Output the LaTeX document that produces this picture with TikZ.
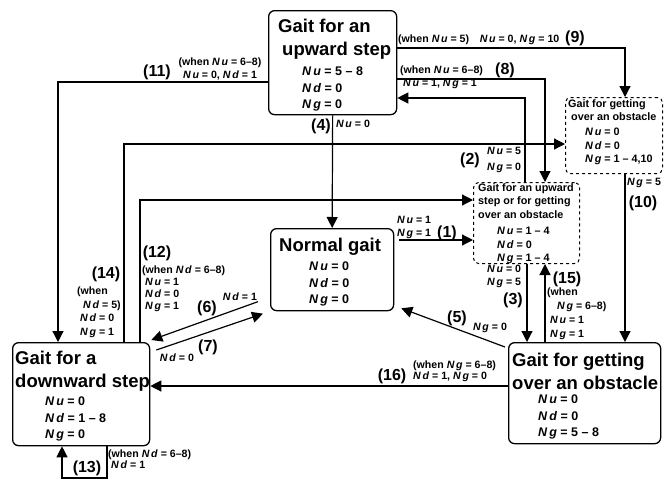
\documentclass[tikz,border=0pt]{standalone}
\usepackage{fontspec}
\setmainfont{Liberation Sans}
\usetikzlibrary{arrows.meta}

\newcommand{\Vu}{\textit{N\,u}}
\newcommand{\Vd}{\textit{N\,d}}
\newcommand{\Vg}{\textit{N\,g}}

\tikzset{x=1pt, y=-1pt,
    gbox/.style={draw, line width=1.3pt, rounded corners=6pt, anchor=north west, inner sep=0pt},
    dbox/.style={gbox, dashed, line width=1pt, rounded corners=5pt},
    ttl/.style={anchor=north west, inner sep=0pt, align=left, font=\fontsize{18.5}{23}\selectfont\bfseries},
    vals/.style={anchor=north west, inner sep=0pt, align=left, font=\fontsize{12.5}{16.5}\selectfont\bfseries},
    sttl/.style={anchor=north west, inner sep=0pt, align=left, font=\fontsize{10.8}{13.5}\selectfont\bfseries},
    svals/.style={anchor=north west, inner sep=0pt, align=left, font=\fontsize{10.8}{13.5}\selectfont\bfseries},
    flow/.style={line width=1.2pt, -{Triangle[length=11pt,width=11pt]}},
    num/.style={inner sep=0pt, font=\fontsize{16}{16}\selectfont\bfseries},
    cond/.style={inner sep=0pt, align=left, font=\fontsize{10.6}{13}\selectfont\bfseries}
}

\begin{document}
\begin{tikzpicture}
\useasboundingbox (0,0) rectangle (664,480);
% states
\node[gbox, minimum width=128pt, minimum height=104pt] (up) at (268,10) {};
\node[gbox, minimum width=123pt, minimum height=82pt] (normal) at (270,228) {};
\node[gbox, minimum width=137pt, minimum height=103pt] (down) at (12,342) {};
\node[gbox, minimum width=152pt, minimum height=101pt] (obst) at (508,342) {};
\node[dbox, minimum width=106pt, minimum height=81pt] (upob) at (473,182) {};
\node[dbox, minimum width=97pt, minimum height=76pt] (obdash) at (565,97) {};

\node[ttl] (upT) at (278,19) {Gait for an\\\hspace*{4pt}upward step};
\node[vals] (upV) at (302,67) {\Vu{} = 5 -- 8\\\Vd{} = 0\\\Vg{} = 0};
\node[ttl] (normT) at (279,238) {Normal gait};
\node[vals] (normV) at (309,262) {\Vu{} = 0\\\Vd{} = 0\\\Vg{} = 0};
\node[ttl] (downT) at (15,351) {Gait for a\\downward step};
\node[vals] (downV) at (45,397) {\Vu{} = 0\\\Vd{} = 1 -- 8\\\Vg{} = 0};
\node[ttl] (obstT) at (512,353) {Gait for getting\\over an obstacle};
\node[vals] (obstV) at (538,395) {\Vu{} = 0\\\Vd{} = 0\\\Vg{} = 5 -- 8};
\node[sttl] (upobT) at (478,183) {Gait for an upward\\step or for getting\\over an obstacle};
\node[svals] (upobV) at (497,227) {\Vu{} = 1 -- 4\\\Vd{} = 0\\\Vg{} = 1 -- 4};
\node[sttl] (obdT) at (568,99) {Gait for getting\\\hspace*{3pt}over an obstacle};
\node[svals] (obdV) at (585,128) {\Vu{} = 0\\\Vd{} = 0\\\Vg{} = 1 -- 4,10};

% transitions
\draw[flow] (up.west |- 0,82) -| (down.north -| 58,0);
\draw[flow] (up.south) -- (normal.north);
\draw[flow] (down.north -| 124,0) |- (obdash.west |- 0,144);
\draw[flow] (down.north -| 140,0) |- (upob.west |- 0,200);
\draw[flow, shorten <=5pt] (normal.east |- 0,240) -- (upob.west |- 0,240);
\draw[flow] (upob.north -| 525,0) |- (up.east |- 0,98);
\draw[flow] (up.east |- 0,79) -| (upob.north -| 545,0);
\draw[flow] (up.east |- 0,48) -| (obdash.north -| 625,0);
\draw[flow] (obdash.south -| 625,0) -- (obst.north -| 625,0);
\draw[flow] (upob.south -| 527,0) -- (obst.north -| 527,0);
\draw[flow] (obst.north -| 545,0) -- (upob.south -| 545,0);
\draw[flow] ([shift={(-3,5)}]obst.north west) -- ([shift={(7,-3)}]normal.south east);
\draw[flow] (obst.west |- 0,386) -- (down.east |- 0,386);
\draw[flow] ([shift={(-12,32)}]normal.west) -- ([shift={(1,-2)}]down.north east);
\draw[flow] ([shift={(6,8)}]down.north east) -- ([shift={(-7,44)}]normal.west);
\draw[flow] (down.south -| 107,0) -- (107,478) -| (down.south -| 62,0);

% labels
\node[num] (n1) at (447,233) {(1)};
\node[num] (n2) at (470,160) {(2)};
\node[num] (n3) at (513,300) {(3)};
\node[num] (n4) at (321,126) {(4)};
\node[num] (n5) at (457,318) {(5)};
\node[num] (n6) at (207,308) {(6)};
\node[num] (n7) at (208,347) {(7)};
\node[num] (n8) at (505,70) {(8)};
\node[num] (n9) at (575,38) {(9)};
\node[num] (n10) at (643,203) {(10)};
\node[num] (n11) at (157,72) {(11)};
\node[num] (n12) at (157,253) {(12)};
\node[num] (n13) at (87,468) {(13)};
\node[num] (n14) at (106,274) {(14)};
\node[num] (n15) at (567,279) {(15)};
\node[num] (n16) at (392,376) {(16)};

\node[cond, anchor=north west] (c1) at (397,216) {\Vu{} = 1\\\Vg{} = 1};
\node[cond, anchor=north west, font=\fontsize{10.6}{16}\selectfont\bfseries] (c2) at (487,147) {\Vu{} = 5\\\Vg{} = 0};
\node[cond, anchor=north west] (c3) at (487,265) {\Vu{} = 0\\\Vg{} = 5};
\node[cond] (c4) at (353,124) {\Vu{} = 0};
\node[cond] (c5) at (490,328) {\Vg{} = 0};
\node[cond] (c6) at (240,297) {\Vd{} = 1};
\node[cond] (c7) at (177,358) {\Vd{} = 0};
\node[cond, anchor=north west] (c8) at (400,66) {(when \Vu{} = 6--8)\\\hspace*{3pt}\Vu{} = 1, \Vg{} = 1};
\node[cond, anchor=west] (c9) at (398,40) {(when \Vu{} = 5)\quad\Vu{} = 0, \Vg{} = 10};
\node[cond] (c10) at (644,183) {\Vg{} = 5};
\node[cond, align=center] (c11) at (220,69) {(when \Vu{} = 6--8)\\\Vu{} = 0, \Vd{} = 1};
\node[cond, anchor=north west, font=\fontsize{10.6}{12}\selectfont\bfseries] (c12) at (142,266) {(when \Vd{} = 6--8)\\\hspace*{3pt}\Vu{} = 1\\\hspace*{3pt}\Vd{} = 0\\\hspace*{3pt}\Vg{} = 1};
\node[cond, anchor=north west, font=\fontsize{10.6}{11}\selectfont\bfseries] (c13) at (108,450) {(when \Vd{} = 6--8)\\\hspace*{3pt}\Vd{} = 1};
\node[cond, anchor=north west, font=\fontsize{10.6}{13.5}\selectfont\bfseries] (c14) at (77,287) {(when\\\hspace*{6pt}\Vd{} = 5)\\\hspace*{3pt}\Vd{} = 0\\\hspace*{3pt}\Vg{} = 1};
\node[cond, anchor=north west, font=\fontsize{10.6}{14}\selectfont\bfseries] (c15) at (547,288) {(when\\\hspace*{10pt}\Vg{} = 6--8)\\\hspace*{3pt}\Vu{} = 1\\\hspace*{3pt}\Vg{} = 1};
\node[cond, anchor=north west, font=\fontsize{10.6}{11}\selectfont\bfseries] (c16) at (413,361) {(when \Vg{} = 6--8)\\\Vd{} = 1, \Vg{} = 0};
\end{tikzpicture}
\end{document}
